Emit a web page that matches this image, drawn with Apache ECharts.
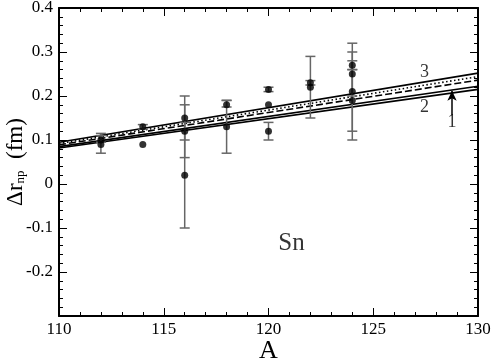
<!DOCTYPE html>
<html>
<head>
<meta charset="utf-8">
<script src="https://cdn.jsdelivr.net/npm/echarts@6/dist/echarts.min.js"></script>
<style>
  html, body { margin: 0; padding: 0; background: #fff; }
  #main { width: 494px; height: 359px; }
</style>
</head>
<body>
<div id="main"></div>
<script>
// measured points: A, value, lower end, upper end (lo == hi -> no bar)
const massA  = [112, 112, 114, 114, 116, 116, 116, 118, 118, 120, 120, 120, 122, 122, 124, 124, 124, 124];
const drVal  = [0.10, 0.09, 0.13, 0.09, 0.15, 0.12, 0.02, 0.18, 0.13, 0.215, 0.18, 0.12, 0.23, 0.22, 0.27, 0.25, 0.21, 0.19];
const drLow  = [0.095, 0.07, 0.125, 0.09, 0.10, 0.06, -0.10, 0.175, 0.07, 0.21, 0.18, 0.10, 0.225, 0.15, 0.26, 0.20, 0.10, 0.12];
const drHigh = [0.115, 0.11, 0.135, 0.09, 0.20, 0.18, 0.14, 0.19, 0.19, 0.22, 0.18, 0.14, 0.235, 0.29, 0.28, 0.30, 0.32, 0.26];

// theory lines, value at A = 110 and A = 130
const lineEnds = [110, 130];
const line3    = [0.095, 0.252];
const lineDot  = [0.092, 0.244];
const lineDash = [0.089, 0.236];
const line1    = [0.085, 0.222];
const line2    = [0.082, 0.215];

// annotations
const noteText = ['3', '2', '1'];
const noteA    = [127.45, 127.45, 128.76];
const noteY    = [0.255, 0.175, 0.141];
const arrowA   = [128.76, 128.76];
const arrowY   = [0.157, 0.212];
const elemA = 121.1, elemY = -0.134;

const serif = 'Liberation Serif';
const chart = echarts.init(document.getElementById('main'));

function pair(v) {
  return lineEnds.map((a, i) => [a, v[i]]);
}

function theoryLine(v, type) {
  return {
    type: 'line',
    data: pair(v),
    showSymbol: false,
    silent: true,
    animation: false,
    lineStyle: { color: '#000', width: 1.6, type: type },
    z: 3
  };
}

const points = massA.map((a, i) => [a, drVal[i], drLow[i], drHigh[i]]);

// axis templates
const xBase = {
  type: 'value', min: 110, max: 130, interval: 5,
  axisLine: { onZero: false, lineStyle: { color: '#000', width: 2 } },
  axisTick: { inside: true, length: 8, lineStyle: { color: '#000', width: 1 } },
  minorTick: { show: true, splitNumber: 5, length: 4, lineStyle: { color: '#000' } },
  splitLine: { show: false }
};
const yBase = {
  type: 'value', min: -0.3, max: 0.4, interval: 0.1,
  axisLine: { onZero: false, lineStyle: { color: '#000', width: 2 } },
  axisTick: { inside: true, length: 8, lineStyle: { color: '#000', width: 1 } },
  minorTick: { show: true, splitNumber: 5, length: 4, lineStyle: { color: '#000' } },
  splitLine: { show: false }
};

const option = {
  animation: false,
  grid: { left: 59, right: 16, top: 8, bottom: 43, containLabel: false, outerBoundsMode: 'none' },
  xAxis: [
    Object.assign({}, xBase, {
      position: 'bottom',
      name: 'A', nameLocation: 'middle', nameGap: 22, nameMoveOverlap: false,
      nameTextStyle: { fontFamily: serif, fontSize: 26, color: '#000' },
      axisLabel: { fontFamily: serif, fontSize: 17, color: '#000', margin: 5 }
    }),
    Object.assign({}, xBase, { position: 'top', axisLabel: { show: false } })
  ],
  yAxis: [
    Object.assign({}, yBase, {
      position: 'left',
      name: '{a|Δr}{s|np}{a|  (fm)}', nameLocation: 'middle', nameGap: 32, nameRotate: 90,
      nameMoveOverlap: false,
      nameTextStyle: {
        fontFamily: serif, color: '#000',
        rich: {
          a: { fontFamily: serif, fontSize: 23, color: '#000' },
          s: { fontFamily: serif, fontSize: 13, color: '#000', padding: [10, 0, 0, 0] }
        }
      },
      axisLabel: {
        fontFamily: serif, fontSize: 17, color: '#000', margin: 6,
        formatter: v => {
          const r = Math.round(v * 10) / 10;
          if (r === -0.3) return '';
          return r === 0 ? '0' : String(r);
        }
      }
    }),
    Object.assign({}, yBase, { position: 'right', axisLabel: { show: false } })
  ],
  series: [
    theoryLine(line3, 'solid'),
    theoryLine(lineDot, [1.5, 2.5]),
    theoryLine(lineDash, [7, 3]),
    theoryLine(line1, 'solid'),
    theoryLine(line2, 'solid'),
    {
      // error bars
      type: 'custom',
      data: points,
      encode: { x: 0, y: 1 },
      z: 4,
      renderItem: function (params, api) {
        const lo = api.value(2), hi = api.value(3);
        if (lo === hi) return;
        const top = api.coord([api.value(0), hi]);
        const bot = api.coord([api.value(0), lo]);
        const w = 5;
        const st = { stroke: '#666', lineWidth: 1.5 };
        return {
          type: 'group',
          children: [
            { type: 'line', shape: { x1: top[0], y1: top[1], x2: bot[0], y2: bot[1] }, style: st },
            { type: 'line', shape: { x1: top[0] - w, y1: top[1], x2: top[0] + w, y2: top[1] }, style: st },
            { type: 'line', shape: { x1: bot[0] - w, y1: bot[1], x2: bot[0] + w, y2: bot[1] }, style: st }
          ]
        };
      }
    },
    {
      type: 'scatter',
      data: points.map(p => [p[0], p[1]]),
      symbolSize: 7,
      itemStyle: { color: '#000' },
      z: 5
    },
    {
      // line numbers, plus the arrow to line 1
      type: 'scatter',
      data: noteA.map((a, i) => ({ value: [a, noteY[i]], name: noteText[i] })),
      symbolSize: 0,
      silent: true,
      label: {
        show: true, position: 'inside', formatter: '{b}',
        fontFamily: serif, fontSize: 18, color: '#000'
      },
      markLine: {
        silent: true,
        symbol: ['none', 'arrow'],
        symbolSize: [7, 10],
        label: { show: false },
        lineStyle: { color: '#000', width: 1.5, type: 'solid' },
        data: [[{ coord: [arrowA[0], arrowY[0]] }, { coord: [arrowA[1], arrowY[1]] }]]
      },
      z: 6
    },
    {
      type: 'scatter',
      data: [{ value: [elemA, elemY], name: 'Sn' }],
      symbolSize: 0,
      silent: true,
      label: {
        show: true, position: 'inside', formatter: '{b}',
        fontFamily: serif, fontSize: 25, color: '#000'
      }
    }
  ]
};

chart.setOption(option);
</script>
</body>
</html>
